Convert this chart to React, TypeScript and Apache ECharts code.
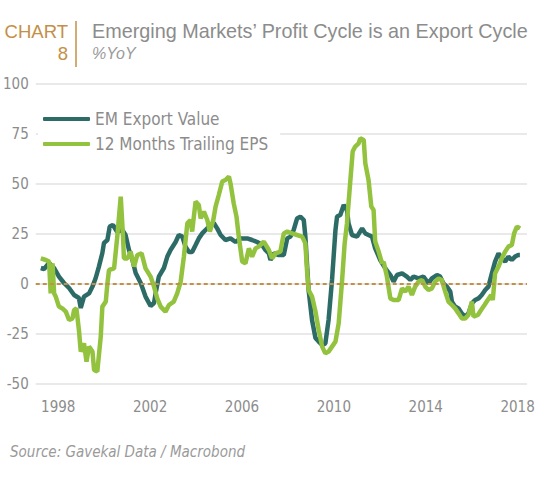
import React, { useEffect, useRef } from "react";
import * as echarts from "echarts";

const TITLE = "Emerging Markets\u2019 Profit Cycle is an Export Cycle";
const SUBTITLE = "%YoY";
const CHART_LABEL = "CHART";
const CHART_NUM = "8";
const SOURCE = "Source: Gavekal Data / Macrobond";
const SERIES_NAMES = ["EM Export Value", "12 Months Trailing EPS"];
const X_TICKS = [1998, 2002, 2006, 2010, 2014, 2018];

const exportYears = [
  1997.24, 1997.38, 1997.6, 1997.82, 1998.03, 1998.25, 1998.47, 1998.69, 1998.9, 1998.98,
  1999.12, 1999.34, 1999.49, 1999.63, 1999.77, 1999.92, 1999.99, 2000.14, 2000.24, 2000.38,
  2000.57, 2000.79, 2000.93, 2001.08, 2001.23, 2001.37, 2001.59, 2001.8, 2002.02, 2002.17,
  2002.24, 2002.38, 2002.6, 2002.75, 2002.89, 2003.11, 2003.25, 2003.4, 2003.54, 2003.69,
  2003.83, 2003.98, 2004.12, 2004.27, 2004.41, 2004.63, 2004.77, 2004.92, 2005.07, 2005.28,
  2005.5, 2005.72, 2005.93, 2006.23, 2006.44, 2006.66, 2006.88, 2007.02, 2007.17, 2007.24,
  2007.38, 2007.6, 2007.82, 2007.97, 2008.11, 2008.25, 2008.4, 2008.54, 2008.69, 2008.76,
  2008.83, 2008.9, 2009.05, 2009.2, 2009.34, 2009.49, 2009.63, 2009.77, 2009.92, 2010.07,
  2010.14, 2010.28, 2010.43, 2010.57, 2010.64, 2010.79, 2011.01, 2011.23, 2011.37, 2011.51,
  2011.66, 2011.8, 2012.02, 2012.24, 2012.46, 2012.6, 2012.75, 2012.97, 2013.18, 2013.33,
  2013.47, 2013.69, 2013.9, 2014.12, 2014.27, 2014.49, 2014.63, 2014.77, 2014.92, 2015.07,
  2015.14, 2015.28, 2015.43, 2015.57, 2015.72, 2015.86, 2016.01, 2016.15, 2016.3, 2016.44,
  2016.59, 2016.73, 2016.88, 2017.02, 2017.17, 2017.31, 2017.46, 2017.6, 2017.75, 2017.89,
  2018.03, 2018.1,
];
const exportValues = [
  8, 7.5, 10.5, 8, 3.7, 0.5, -2, -5.5, -7, -12,
  -6.3, -4.7, -1.3, 3, 8.7, 15.5, 20.5, 22, 28.7, 29.5,
  26, 27, 24.5, 17, 12, 5.5, 0.5, -6.3, -11, -9.5,
  -4.5, 3.7, 8, 13.7, 17, 21, 24.5, 23.7, 18.7, 16,
  16, 19.5, 22.8, 25.3, 27, 29.5, 30.5, 27.8, 24.5, 22,
  22.8, 21, 22.8, 22.8, 22, 21, 19.5, 17, 15.3, 12,
  15.3, 14.5, 14.5, 22.8, 23.7, 27, 32.8, 33.7, 32, 23.7,
  10.3, -3, -18, -27, -28.8, -30.5, -29.7, -18, 2, 27,
  33.7, 34.5, 39.5, 37, 30.3, 24.5, 23.7, 27.8, 25.3, 24.5,
  23.7, 17.8, 12, 7.8, 4.5, 1.2, 4.5, 5.3, 3.7, 2,
  3.7, 2.8, 3.7, 0.3, 2.8, 4.5, 3.7, 0.3, -1.3, -3.8,
  -8.8, -11.3, -12.2, -14.7, -16.3, -14.7, -9.7, -8, -7.2, -5.5,
  -3, -1.3, 5.3, 11.2, 15.3, 12.8, 11.2, 13.7, 12, 13.7,
  14.5, 14.5,
];

const epsYears = [
  1997.24, 1997.46, 1997.6, 1997.67, 1997.75, 1997.82, 1997.89, 1998.03, 1998.18, 1998.33,
  1998.47, 1998.62, 1998.69, 1998.79, 1998.9, 1998.98, 1999.12, 1999.23, 1999.34, 1999.49,
  1999.56, 1999.7, 1999.85, 1999.92, 2000.07, 2000.14, 2000.21, 2000.43, 2000.57, 2000.72,
  2000.82, 2000.86, 2001.01, 2001.15, 2001.3, 2001.44, 2001.63, 2001.8, 2002.02, 2002.17,
  2002.31, 2002.46, 2002.67, 2002.82, 2003.03, 2003.18, 2003.33, 2003.47, 2003.62, 2003.76,
  2003.83, 2003.98, 2004.12, 2004.2, 2004.34, 2004.49, 2004.6, 2004.75, 2004.85, 2004.99,
  2005.14, 2005.28, 2005.43, 2005.5, 2005.64, 2005.76, 2005.86, 2006.01, 2006.15, 2006.3,
  2006.44, 2006.59, 2006.73, 2006.95, 2007.17, 2007.31, 2007.46, 2007.67, 2007.82, 2007.97,
  2008.18, 2008.4, 2008.62, 2008.76, 2008.83, 2008.9, 2009.05, 2009.2, 2009.34, 2009.49,
  2009.63, 2009.77, 2009.92, 2010.07, 2010.21, 2010.36, 2010.47, 2010.57, 2010.72, 2010.82,
  2010.93, 2011.08, 2011.15, 2011.3, 2011.37, 2011.51, 2011.63, 2011.73, 2011.8, 2011.95,
  2012.1, 2012.17, 2012.31, 2012.46, 2012.6, 2012.82, 2012.97, 2013.11, 2013.25, 2013.4,
  2013.54, 2013.69, 2013.84, 2013.98, 2014.12, 2014.27, 2014.41, 2014.56, 2014.7, 2014.85,
  2014.99, 2015.14, 2015.28, 2015.43, 2015.57, 2015.72, 2015.86, 2016.01, 2016.08, 2016.27,
  2016.41, 2016.56, 2016.7, 2016.85, 2016.92, 2017.02, 2017.17, 2017.31, 2017.46, 2017.6,
  2017.75, 2017.85, 2017.97, 2018.11,
];
const epsValues = [
  12.8, 12, 11.2, -4.7, 10.3, -4.7, -6.3, -11.3, -12.2, -13.8,
  -18, -17.2, -13, -12.2, -23, -33.8, -29.7, -38.8, -31.3, -33.8,
  -43, -43.8, -26.3, -11.3, -8.8, 0.3, 7, 7.8, 23.7, 43.7,
  23.7, 12.8, 12.8, 16.2, 8.7, 14.5, 15.3, 7.8, 3.7, -1.3,
  -7.2, -11.3, -13.8, -10.5, -8.8, -4.7, 1.2, 13.7, 30.3, 32,
  26.2, 41.2, 39.5, 32.8, 36.2, 32, 26.2, 32, 38.7, 44.5,
  51.2, 52, 53.7, 50.3, 40.3, 33.7, 23.7, 11.2, 10.3, 17.8,
  13.7, 17.8, 18.7, 21.2, 17, 12.8, 15.3, 16.2, 25.3, 26.2,
  25.3, 24.5, 23.7, 20.3, 7, -3, -6.3, -13.8, -23, -31.3,
  -34.7, -33.8, -31.3, -28.8, -19.7, 2, 20.3, 30.3, 52, 66.2,
  68.7, 70.3, 72.8, 72, 60.3, 52, 38.7, 37, 21.2, 16.2,
  10.3, 11, 3.7, -7.2, -8, -8, -2.2, -3.8, -1.3, -5.5,
  -1.3, 1.2, 2, -1.3, -3, -2.2, 1.2, 2.8, 2, -3.8,
  -8.8, -10.5, -12.2, -14.7, -17.2, -17.2, -15.5, -8.8, -16.3, -15.5,
  -13, -10.5, -8, -5.5, -8, 5.3, 8.7, 12.8, 16.2, 18.7,
  19.5, 25.3, 28.7, 27.8,
];

const TEAL = "#2d6b67";
const GREEN = "#93c23f";
const GOLD = "#c48f47";
const GRAY = "#8c8c8c";
const NARROW = "'DejaVu Sans Condensed', 'Liberation Sans Narrow', sans-serif";
const WIDE = "'Liberation Sans', Arial, sans-serif";

export default function App() {
  const ref = useRef<HTMLDivElement>(null);

  useEffect(() => {
    if (!ref.current) return;
    const chart = echarts.init(ref.current, undefined, { renderer: "svg" });
    const exportData = exportYears.map((x, i) => [x, exportValues[i]]);
    const epsData = epsYears.map((x, i) => [x, epsValues[i]]);

    chart.setOption({
      animation: false,
      backgroundColor: "#ffffff",
      grid: { left: 35, right: 19, top: 84, bottom: 102, containLabel: false },
      xAxis: {
        type: "value",
        min: 1997.02,
        max: 2018.41,
        axisLine: { show: false },
        axisTick: { show: false },
        splitLine: { show: false },
        axisLabel: {
          customValues: X_TICKS,
          formatter: (v: number) => String(Math.round(v)),
          color: GRAY,
          fontFamily: NARROW,
          fontSize: 15,
          margin: 15,
        },
      },
      yAxis: {
        type: "value",
        min: -50,
        max: 100,
        interval: 25,
        axisLine: { show: false },
        axisTick: { show: false },
        splitLine: { lineStyle: { color: "#e9e9e9", width: 2 } },
        axisLabel: {
          color: GRAY,
          fontFamily: NARROW,
          fontSize: 15,
          margin: 7,
        },
      },
      legend: {
        orient: "vertical",
        left: 38,
        top: 107,
        itemWidth: 47,
        itemHeight: 4,
        itemGap: 5,
        icon: "roundRect",
        backgroundColor: "#ffffff",
        padding: [2, 12, 2, 5],
        textStyle: {
          color: GRAY,
          fontFamily: NARROW,
          fontSize: 17,
          lineHeight: 20,
        },
        data: SERIES_NAMES,
      },
      series: [
        {
          name: SERIES_NAMES[0],
          type: "line",
          data: exportData,
          showSymbol: false,
          symbol: "none",
          lineStyle: { color: TEAL, width: 4.5 },
          itemStyle: { color: TEAL },
          z: 3,
          markLine: {
            silent: true,
            symbol: "none",
            label: { show: false },
            lineStyle: { color: GOLD, width: 2, type: [4, 3] },
            data: [{ yAxis: 0 }],
          },
        },
        {
          name: SERIES_NAMES[1],
          type: "line",
          data: epsData,
          showSymbol: false,
          symbol: "none",
          lineStyle: { color: GREEN, width: 4.5 },
          itemStyle: { color: GREEN },
          z: 4,
        },
      ],
      graphic: [
        {
          type: "text",
          x: 68,
          y: 31,
          style: { text: CHART_LABEL, fill: GOLD, fontFamily: WIDE, fontSize: 18.5, align: "right", verticalAlign: "middle" },
        },
        {
          type: "text",
          x: 68,
          y: 53,
          style: { text: CHART_NUM, fill: GOLD, fontFamily: WIDE, fontSize: 18.5, align: "right", verticalAlign: "middle" },
        },
        {
          type: "line",
          shape: { x1: 76, y1: 21, x2: 76, y2: 67 },
          style: { stroke: GOLD, lineWidth: 1.5 },
        },
        {
          type: "text",
          x: 92,
          y: 31,
          style: { text: TITLE, fill: GRAY, fontFamily: WIDE, fontSize: 19.8, align: "left", verticalAlign: "middle" },
        },
        {
          type: "text",
          x: 92,
          y: 53,
          style: { text: SUBTITLE, fill: "#9a9a9a", fontFamily: WIDE, fontStyle: "italic", fontSize: 16, align: "left", verticalAlign: "middle" },
        },
        {
          type: "text",
          x: 10,
          y: 452,
          style: { text: SOURCE, fill: "#9a9a9a", fontFamily: NARROW, fontStyle: "italic", fontSize: 15, align: "left", verticalAlign: "middle" },
        },
      ],
    });

    return () => chart.dispose();
  }, []);

  return (
    <div
      ref={ref}
      style={{ position: "absolute", left: 0, top: 0, width: 546, height: 486, background: "#fff" }}
    />
  );
}
